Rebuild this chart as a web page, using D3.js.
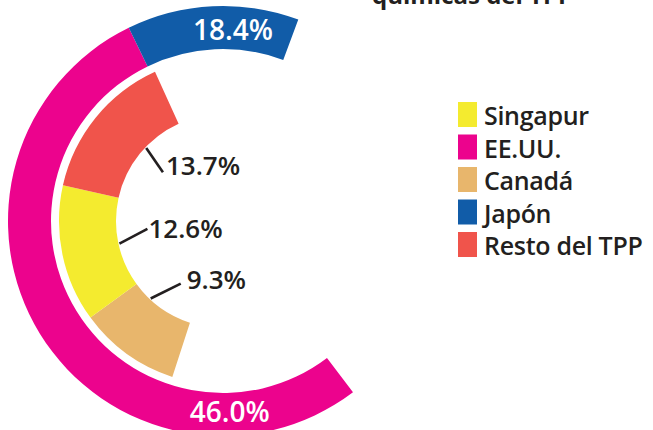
<!DOCTYPE html>
<html><head><meta charset="utf-8">
<script src="https://cdn.jsdelivr.net/npm/d3@7"></script>
<style>
html,body{margin:0;padding:0;background:#fff;}
svg{display:block;font-family:"Open Sans",sans-serif;}
</style></head>
<body>
<svg id="c" width="653" height="430"></svg>
<script>
// ---- data ----
const outerNames = ["EE.UU.", "Japón"];
const outerValues = [46.0, 18.4];
const innerNames = ["Canadá", "Singapur", "Resto del TPP"];
const innerValues = [9.3, 12.6, 13.7];
const legendNames = ["Singapur", "EE.UU.", "Canadá", "Japón", "Resto del TPP"];
const colors = {"Singapur":"#F4EB2F","EE.UU.":"#EC038D","Canadá":"#E8B66C","Japón":"#115CA8","Resto del TPP":"#F0544B"};
const titleText = "químicas del TPP";

// ---- layout ----
const svg = d3.select("#c");
const cx = 223, cy = 221;
const deg = Math.PI/180;
const g = svg.append("g").attr("transform", `translate(${cx},${cy})`);

// outer ring: polylinear angle scale over cumulative values
const outerCum = [0]; outerValues.forEach(v => outerCum.push(outerCum[outerCum.length-1]+v));
const outerAngle = d3.scaleLinear().domain(outerCum).range([142.8*deg, 334*deg, 380.5*deg]);
const innerCum = [0]; innerValues.forEach(v => innerCum.push(innerCum[innerCum.length-1]+v));
const innerAngle = d3.scaleLinear().domain([0, d3.sum(innerValues)]).range([198*deg, 335.5*deg]);

const outerArc = d3.arc().innerRadius(172).outerRadius(215);
const innerArc = d3.arc().innerRadius(107).outerRadius(164);

g.selectAll("path.outer").data(outerNames).join("path")
  .attr("class","outer")
  .attr("fill", d => colors[d])
  .attr("d", (d,i) => outerArc({startAngle: outerAngle(outerCum[i]), endAngle: outerAngle(outerCum[i+1])}));

g.selectAll("path.inner").data(innerNames).join("path")
  .attr("class","inner")
  .attr("fill", d => colors[d])
  .attr("d", (d,i) => innerArc({startAngle: innerAngle(innerCum[i]), endAngle: innerAngle(innerCum[i+1])}));

// outer labels (white, horizontal)
const outerLabelAngle = [178, 3];
g.selectAll("text.olab").data(outerValues).join("text")
  .attr("class","olab")
  .attr("x", (d,i) => 191*Math.sin(outerLabelAngle[i]*deg))
  .attr("y", (d,i) => -191*Math.cos(outerLabelAngle[i]*deg))
  .attr("dy","0.35em")
  .attr("text-anchor","middle")
  .attr("fill","#fff")
  .attr("font-size",28).attr("font-weight",600)
  .text(d => d.toFixed(1) + "%");

// inner labels with leader lines
const innerLab = [
  {a0:223, a1:214, r:75.6, dx:6, dy:5.3},
  {a0:257.7, a1:264, r:76, dx:1, dy:9},
  {a0:313.6, a1:309, r:77.3, dx:3, dy:2.3}
];
const pt = (a, r) => [r*Math.sin(a*deg), -r*Math.cos(a*deg)];
g.selectAll("line.lead").data(innerValues).join("line")
  .attr("class","lead")
  .attr("x1", (d,i) => pt(innerLab[i].a0, 106)[0])
  .attr("y1", (d,i) => pt(innerLab[i].a0, 106)[1])
  .attr("x2", (d,i) => pt(innerLab[i].a1, innerLab[i].r)[0])
  .attr("y2", (d,i) => pt(innerLab[i].a1, innerLab[i].r)[1])
  .attr("stroke","#231F20").attr("stroke-width",2.6);
g.selectAll("text.ilab").data(innerValues).join("text")
  .attr("class","ilab")
  .attr("x", (d,i) => pt(innerLab[i].a1, innerLab[i].r)[0] + innerLab[i].dx)
  .attr("y", (d,i) => pt(innerLab[i].a1, innerLab[i].r)[1] + innerLab[i].dy)
  .attr("fill","#231F20")
  .attr("font-size",26).attr("font-weight",600)
  .text(d => d.toFixed(1) + "%");

// legend
const leg = svg.append("g").attr("transform","translate(458,102)");
const rowY = d3.scaleLinear().domain([0, legendNames.length-1]).range([0,130]);
const rows = leg.selectAll("g").data(legendNames).join("g")
  .attr("transform",(d,i)=>`translate(0,${rowY(i)})`);
rows.append("rect").attr("width",19).attr("height",25).attr("fill", d => colors[d]);
rows.append("text").attr("x",26).attr("y",23)
  .attr("fill","#231F20").attr("font-size",25).attr("font-weight",600)
  .attr("letter-spacing","-0.3")
  .text(d => d);

// title (cut off at top)
svg.append("text").attr("x",372).attr("y",3.5)
  .attr("fill","#231F20").attr("font-size",24).attr("font-weight",700)
  .text(titleText);
</script>
</body></html>
